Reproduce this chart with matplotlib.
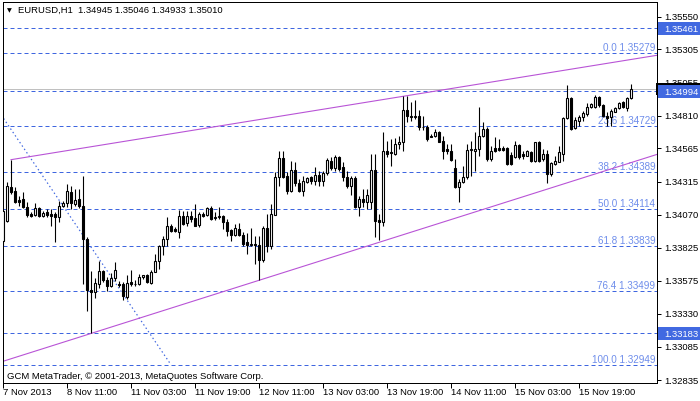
import matplotlib
matplotlib.use("Agg")
import matplotlib.pyplot as plt
from matplotlib import transforms
from matplotlib.patches import Rectangle

# ---------------- data (EURUSD H1) ----------------
opens = [1.33876,1.34025,1.34275,1.34245,1.34182,1.34187,1.34125,1.34075,1.34068,1.34118,
         1.34058,1.34088,1.34073,1.34075,1.34051,1.34137,1.34158,1.34242,1.34150,1.34187,
         1.34133,1.33889,1.33508,1.33495,1.33553,1.33647,1.33585,1.33535,1.33595,1.33553,
         1.33553,1.33453,1.33565,1.33556,1.33553,1.33603,1.33620,1.33560,1.33644,1.33727,
         1.33834,1.33889,1.33984,1.33963,1.33943,1.34058,1.34008,1.34063,1.34043,1.33993,
         1.34075,1.34068,1.34118,1.34049,1.34055,1.34058,1.34018,1.33956,1.33921,1.33963,
         1.33921,1.33864,1.33844,1.33851,1.33844,1.33734,1.33969,1.33839,1.34070,1.34349,
         1.34491,1.34357,1.34249,1.34406,1.34305,1.34249,1.34317,1.34349,1.34324,1.34367,
         1.34324,1.34382,1.34473,1.34417,1.34499,1.34424,1.34349,1.34287,1.34342,1.34125,
         1.34187,1.34163,1.34167,1.34404,1.34031,1.34018,1.34548,1.34531,1.34523,1.34598,
         1.34611,1.34854,1.34805,1.34800,1.34805,1.34728,1.34725,1.34660,1.34660,1.34688,
         1.34623,1.34561,1.34548,1.34417,1.34275,1.34312,1.34349,1.34553,1.34548,1.34561,
         1.34656,1.34710,1.34486,1.34565,1.34565,1.34565,1.34565,1.34516,1.34499,1.34593,
         1.34523,1.34511,1.34536,1.34473,1.34611,1.34486,1.34523,1.34374,1.34449,1.34466,
         1.34523,1.34790,1.34939,1.34715,1.34772,1.34802,1.34822,1.34877,1.34877,1.34947,
         1.34889,1.34805,1.34798,1.34839,1.34865,1.34914,1.34865,1.34945]
highs = [1.34120,1.34314,1.34481,1.34277,1.34212,1.34237,1.34163,1.34088,1.34158,1.34125,
         1.34100,1.34113,1.34113,1.34088,1.34175,1.34175,1.34299,1.34287,1.34262,1.34262,
         1.34361,1.33901,1.33652,1.33595,1.33724,1.33659,1.33603,1.33635,1.33719,1.33575,
         1.33565,1.33620,1.33659,1.33585,1.33627,1.33620,1.33624,1.33659,1.33777,1.33844,
         1.33909,1.34051,1.34001,1.33976,1.34108,1.34100,1.34100,1.34100,1.34150,1.34088,
         1.34088,1.34125,1.34137,1.34088,1.34125,1.34068,1.34038,1.33963,1.34001,1.34006,
         1.33939,1.33934,1.33969,1.33913,1.33913,1.33988,1.34075,1.34150,1.34391,1.34546,
         1.34546,1.34387,1.34473,1.34466,1.34337,1.34357,1.34354,1.34357,1.34424,1.34398,
         1.34398,1.34491,1.34499,1.34516,1.34511,1.34461,1.34399,1.34357,1.34357,1.34212,
         1.34262,1.34262,1.34523,1.34523,1.34075,1.34690,1.34623,1.34636,1.34641,1.34660,
         1.34957,1.34959,1.34914,1.34929,1.34852,1.34805,1.34740,1.34673,1.34710,1.34698,
         1.34660,1.34598,1.34598,1.34486,1.34337,1.34432,1.34598,1.34623,1.34685,1.34873,
         1.34765,1.34723,1.34585,1.34648,1.34636,1.34585,1.34573,1.34536,1.34623,1.34598,
         1.34548,1.34553,1.34548,1.34615,1.34623,1.34561,1.34556,1.34461,1.34511,1.34585,
         1.34798,1.35039,1.34947,1.34798,1.34815,1.34848,1.34904,1.34904,1.34964,1.34959,
         1.34897,1.34835,1.34859,1.34877,1.34914,1.34922,1.34947,1.35046]
lows = [1.33836,1.34016,1.34225,1.34158,1.34137,1.34118,1.34051,1.34051,1.34063,1.34051,
        1.34051,1.34051,1.33988,1.33868,1.34018,1.34125,1.34125,1.34113,1.34137,1.34118,
        1.33553,1.33353,1.33183,1.33446,1.33520,1.33570,1.33503,1.33528,1.33577,1.33530,
        1.33435,1.33441,1.33540,1.33540,1.33545,1.33590,1.33560,1.33553,1.33640,1.33665,
        1.33769,1.33839,1.33939,1.33939,1.33894,1.33993,1.33988,1.34013,1.33984,1.33976,
        1.34051,1.34063,1.34031,1.34033,1.34038,1.33963,1.33913,1.33876,1.33913,1.33909,
        1.33839,1.33777,1.33839,1.33702,1.33580,1.33715,1.33794,1.33814,1.34068,1.34282,
        1.34342,1.34225,1.34242,1.34287,1.34237,1.34208,1.34307,1.34299,1.34292,1.34282,
        1.34287,1.34367,1.34406,1.34399,1.34399,1.34324,1.34267,1.34217,1.34118,1.34063,
        1.34125,1.34113,1.34113,1.33901,1.33883,1.33988,1.34499,1.34432,1.34516,1.34561,
        1.34548,1.34765,1.34772,1.34785,1.34705,1.34703,1.34623,1.34648,1.34648,1.34611,
        1.34486,1.34523,1.34473,1.34267,1.34167,1.34307,1.34337,1.34361,1.34399,1.34511,
        1.34648,1.34473,1.34473,1.34536,1.34548,1.34546,1.34441,1.34441,1.34491,1.34486,
        1.34486,1.34506,1.34466,1.34466,1.34461,1.34473,1.34307,1.34361,1.34441,1.34461,
        1.34473,1.34785,1.34706,1.34710,1.34735,1.34772,1.34809,1.34865,1.34865,1.34877,
        1.34798,1.34735,1.34735,1.34835,1.34859,1.34865,1.34848,1.34933]
closes = [1.34100,1.34282,1.34237,1.34167,1.34167,1.34125,1.34068,1.34063,1.34118,1.34058,
          1.34083,1.34068,1.34063,1.34051,1.34133,1.34158,1.34249,1.34158,1.34182,1.34133,
          1.33889,1.33508,1.33491,1.33560,1.33647,1.33585,1.33535,1.33595,1.33657,1.33545,
          1.33461,1.33560,1.33553,1.33549,1.33607,1.33620,1.33565,1.33644,1.33727,1.33834,
          1.33889,1.33984,1.33951,1.33948,1.34058,1.34001,1.34058,1.34038,1.33988,1.34075,
          1.34063,1.34118,1.34038,1.34055,1.34063,1.34018,1.33951,1.33921,1.33969,1.33919,
          1.33851,1.33844,1.33851,1.33844,1.33734,1.33969,1.33839,1.34075,1.34349,1.34491,
          1.34349,1.34249,1.34406,1.34305,1.34249,1.34322,1.34342,1.34324,1.34367,1.34324,
          1.34382,1.34479,1.34417,1.34499,1.34411,1.34349,1.34287,1.34342,1.34125,1.34187,
          1.34163,1.34217,1.34404,1.34025,1.34018,1.34548,1.34523,1.34541,1.34598,1.34615,
          1.34854,1.34805,1.34798,1.34805,1.34728,1.34722,1.34636,1.34653,1.34688,1.34615,
          1.34548,1.34548,1.34481,1.34275,1.34312,1.34349,1.34553,1.34561,1.34561,1.34656,
          1.34710,1.34486,1.34548,1.34548,1.34556,1.34556,1.34449,1.34449,1.34593,1.34499,
          1.34506,1.34548,1.34473,1.34611,1.34473,1.34523,1.34374,1.34454,1.34473,1.34536,
          1.34790,1.34939,1.34710,1.34780,1.34802,1.34827,1.34877,1.34897,1.34947,1.34889,
          1.34805,1.34790,1.34848,1.34865,1.34904,1.34877,1.34939,1.35010]

# date axis: bar index -> label
date_ticks = [0, 16, 32, 48, 64, 80, 96, 112, 128, 144]
date_labels = ["7 Nov 2013", "8 Nov 11:00", "11 Nov 03:00", "11 Nov 19:00", "12 Nov 11:00",
               "13 Nov 03:00", "13 Nov 19:00", "14 Nov 11:00", "15 Nov 03:00", "15 Nov 19:00"]

price_ticks = [1.35550, 1.35305, 1.35055, 1.34810, 1.34565, 1.34315,
               1.34070, 1.33825, 1.33575, 1.33330, 1.33085, 1.32835]

# fibonacci retracement
fib_high, fib_low = 1.35279, 1.32949
fib_levels = [0.0, 23.6, 38.2, 50.0, 61.8, 76.4, 100.0]
fib_anchor_bars = [-11, 42]          # (high bar, low bar)

# horizontal lines with price labels on the axis
hlines_prices = [1.35461, 1.34994, 1.33183]
bid_price = 1.35010

# channel trend lines: anchor bars
upper_anchor_bars = [2, 101]
lower_anchor_bars = [22, 64]

# ---------------- figure ----------------
W, H = 700, 402
fig = plt.figure(figsize=(W / 100, H / 100), dpi=100)
left_px, right_px, top_px, bot_px = 2.7, 657.0, 2.7, 384.0
ax = fig.add_axes([left_px / W, 1 - bot_px / H, (right_px - left_px) / W, (bot_px - top_px) / H])

x_min, x_max = -0.075, 163.5
y_min, y_max = 1.32813, 1.35661
ax.set_xlim(x_min, x_max)
ax.set_ylim(y_min, y_max)

FONT = "Liberation Sans"
FS = 6.8
BLUE = "#3F66E0"
FIBTXT = "#6E8DEB"
PURPLE = "#B853D6"
px = 0.72  # one pixel in points

for s in ax.spines.values():
    s.set_color("black")
    s.set_linewidth(px)

# dashed horizontal lines
dash = (0, (4, 3))
lift = transforms.ScaledTranslation(0, 1 / 100, fig.dpi_scale_trans)
for lv in fib_levels:
    p = fib_high - (fib_high - fib_low) * lv / 100.0
    ax.axhline(p, color=BLUE, lw=px, ls=dash, zorder=1)
    ax.text(x_max - 0.4, p, f"{lv:.1f} {p:.5f}", color=FIBTXT, fontsize=FS + 0.3, family=FONT,
            ha="right", va="bottom", zorder=1, transform=ax.transData + lift)
for p in hlines_prices:
    ax.axhline(p, color=BLUE, lw=px, ls=dash, zorder=1)
ax.axhline(bid_price, color="#C0C0C0", lw=px, zorder=1)

# fib diagonal (dotted)
ax.plot(fib_anchor_bars, [fib_high, fib_low], color=BLUE, lw=px * 1.2, ls=(0, (1.2, 2.2)), zorder=1)

# channel lines
def line_through(bars, vals, x0, x1):
    (a, b), (va, vb) = bars, vals
    k = (vb - va) / (b - a)
    return [x0, x1], [va + k * (x0 - a), va + k * (x1 - a)]

ux, uy = line_through(upper_anchor_bars, [highs[upper_anchor_bars[0]], highs[upper_anchor_bars[1]]],
                      upper_anchor_bars[0], x_max + 2)
ax.plot(ux, uy, color=PURPLE, lw=px * 1.1, zorder=2)
lx, ly = line_through(lower_anchor_bars, [lows[lower_anchor_bars[0]], lows[lower_anchor_bars[1]]],
                      x_min - 2, x_max + 2)
ax.plot(lx, ly, color=PURPLE, lw=px * 1.1, zorder=2)

# candles
idx = list(range(len(opens)))
ax.vlines(idx, lows, highs, color="black", lw=px * 1.1, zorder=3)
for i in idx:
    o, c = opens[i], closes[i]
    fc = "white" if c > o else "black"
    ax.bar(i, abs(c - o), bottom=min(o, c), width=0.56, facecolor=fc, edgecolor="black",
           lw=px * 1.1, zorder=4)

# axes ticks
ax.set_xticks(date_ticks)
ax.set_xticklabels([])
ax.tick_params(axis="x", direction="out", length=3.5, width=px, color="black")
ax.yaxis.tick_right()
ax.set_yticks(price_ticks)
ax.set_yticklabels([])
ax.tick_params(axis="y", direction="out", length=3, width=px, color="black")

bx = transforms.blended_transform_factory(ax.transData, fig.transFigure)
for t, lab in zip(date_ticks, date_labels):
    ax.text(t + 0.1, 1 - 393 / H, lab, transform=bx, fontsize=FS, family=FONT,
            ha="left", va="center", clip_on=False)

by = transforms.blended_transform_factory(fig.transFigure, ax.transData)
for p in price_ticks:
    ax.text(664 / W, p, f"{p:.5f}", transform=by, fontsize=FS, family=FONT,
            ha="left", va="center", clip_on=False)

# axis price boxes: bid (black) and horizontal-line labels (blue)
def y_fig(p):
    return 1 - (top_px + (y_max - p) / (y_max - y_min) * (bot_px - top_px)) / H

ax.add_patch(Rectangle((656 / W, y_fig(bid_price) - 6 / H), 44 / W, 12 / H,
                       transform=fig.transFigure, fc="black", ec="none", clip_on=False, zorder=9))
for p in hlines_prices:
    ax.add_patch(Rectangle((657.5 / W, y_fig(p) - 6.5 / H), 42.5 / W, 12.5 / H,
                           transform=fig.transFigure, fc="#4169E1", ec="none",
                           clip_on=False, zorder=10))
    ax.text(664 / W, p, f"{p:.5f}", transform=by, fontsize=FS, family=FONT,
            color="white", ha="left", va="center", clip_on=False, zorder=11)

# header and copyright
fig.text(7 / W, 1 - 10.5 / H, "\u25BC", fontsize=4.5, family="DejaVu Sans", va="center", ha="left")
fig.text(18 / W, 1 - 10.5 / H,
         f"EURUSD,H1  {opens[-1]:.5f} {highs[-1]:.5f} {lows[-1]:.5f} {closes[-1]:.5f}",
         fontsize=FS, family=FONT, va="center", ha="left")
fig.text(7 / W, 1 - 377 / H, "GCM MetaTrader, \u00A9 2001-2013, MetaQuotes Software Corp.",
         fontsize=FS, family=FONT, va="center", ha="left")

fig.savefig("out.png", dpi=100)
